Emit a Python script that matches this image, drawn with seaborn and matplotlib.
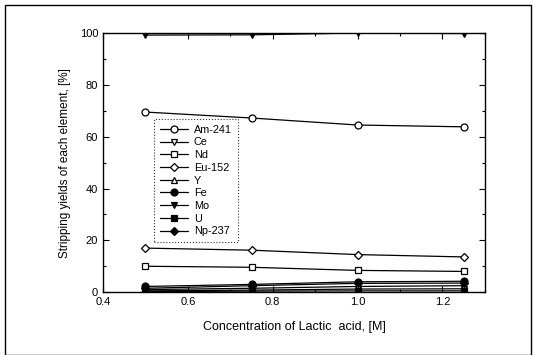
import pandas as pd
import matplotlib
matplotlib.use("Agg")
import matplotlib.pyplot as plt
import seaborn as sns
from matplotlib.patches import Rectangle
from matplotlib.ticker import MultipleLocator

# Datos
concentration = [0.5, 0.75, 1.0, 1.25]
elements = ["Am-241", "Ce", "Nd", "Eu-152", "Y", "Fe", "Mo", "U", "Np-237"]
am241 = [69.5, 67.2, 64.5, 63.8]
ce = [0.5, 0.8, 1.2, 1.3]
nd = [10.0, 9.6, 8.4, 8.0]
eu152 = [17.0, 16.2, 14.5, 13.6]
y_el = [1.0, 1.5, 2.2, 2.5]
fe = [2.2, 3.0, 4.0, 4.2]
mo = [99.2, 99.3, 100.0, 99.8]
u = [0.2, 0.4, 0.5, 0.5]
np237 = [1.5, 2.5, 3.4, 3.5]

values = [am241, ce, nd, eu152, y_el, fe, mo, u, np237]
markers = ["o", "v", "s", "D", "^", "o", "v", "s", "D"]
filled = [False, False, False, False, False, True, True, True, True]

sns.set_style("ticks")
plt.rcParams["font.family"] = ["Liberation Sans", "DejaVu Sans"]
plt.rcParams["text.color"] = "black"
plt.rcParams["axes.labelcolor"] = "black"
plt.rcParams["xtick.color"] = "black"
plt.rcParams["ytick.color"] = "black"

fig = plt.figure(figsize=(5.34, 3.55), dpi=100)
ax = fig.add_axes([0.193, 0.177, 0.715, 0.730])

for name, vals, m, f in zip(elements, values, markers, filled):
    df = pd.DataFrame({"x": concentration, "y": vals})
    sns.lineplot(data=df, x="x", y="y", ax=ax, color="black", lw=0.9,
                 marker=m, markersize=5 if m != "D" else 4.5,
                 markerfacecolor="black" if f else "white",
                 markeredgecolor="black", markeredgewidth=0.9,
                 label=name)

ax.set_xlim(0.4, 1.3)
ax.set_ylim(0, 100)
ax.xaxis.set_minor_locator(MultipleLocator(0.1))
ax.yaxis.set_major_locator(MultipleLocator(20))
ax.yaxis.set_minor_locator(MultipleLocator(10))
ax.set_xticks([0.4, 0.6, 0.8, 1.0, 1.2])
ax.set_xticklabels(["0.4", "0.6", "0.8", "1.0", "1.2"])
ax.tick_params(which="both", direction="in", top=True, right=True,
               labelsize=8, width=0.8, color="black", labelcolor="black")
ax.tick_params(which="major", length=4)
ax.tick_params(which="minor", length=2)
for s in ax.spines.values():
    s.set_linewidth(1.0)
    s.set_color("black")

ax.set_xlabel("Concentration of Lactic  acid, [M]", fontsize=9, labelpad=10)
ax.set_ylabel("Stripping yields of each element, [%]", fontsize=8.5, labelpad=6)

leg = ax.legend(loc="upper left", bbox_to_anchor=(0.12, 0.69), fontsize=7.8,
                frameon=True, fancybox=False, borderpad=0.55, labelspacing=0.25,
                handlelength=2.6, handletextpad=0.5)
leg.get_frame().set_edgecolor("black")
leg.get_frame().set_linewidth(0.8)
leg.get_frame().set_linestyle(":")
for t in leg.get_texts():
    t.set_color("black")

# Marco exterior de la figura
fig.patches.append(Rectangle((0.01, 0.0), 0.985, 0.985, transform=fig.transFigure,
                             fill=False, edgecolor="black", lw=1.0))

fig.savefig("out.png", dpi=100)
